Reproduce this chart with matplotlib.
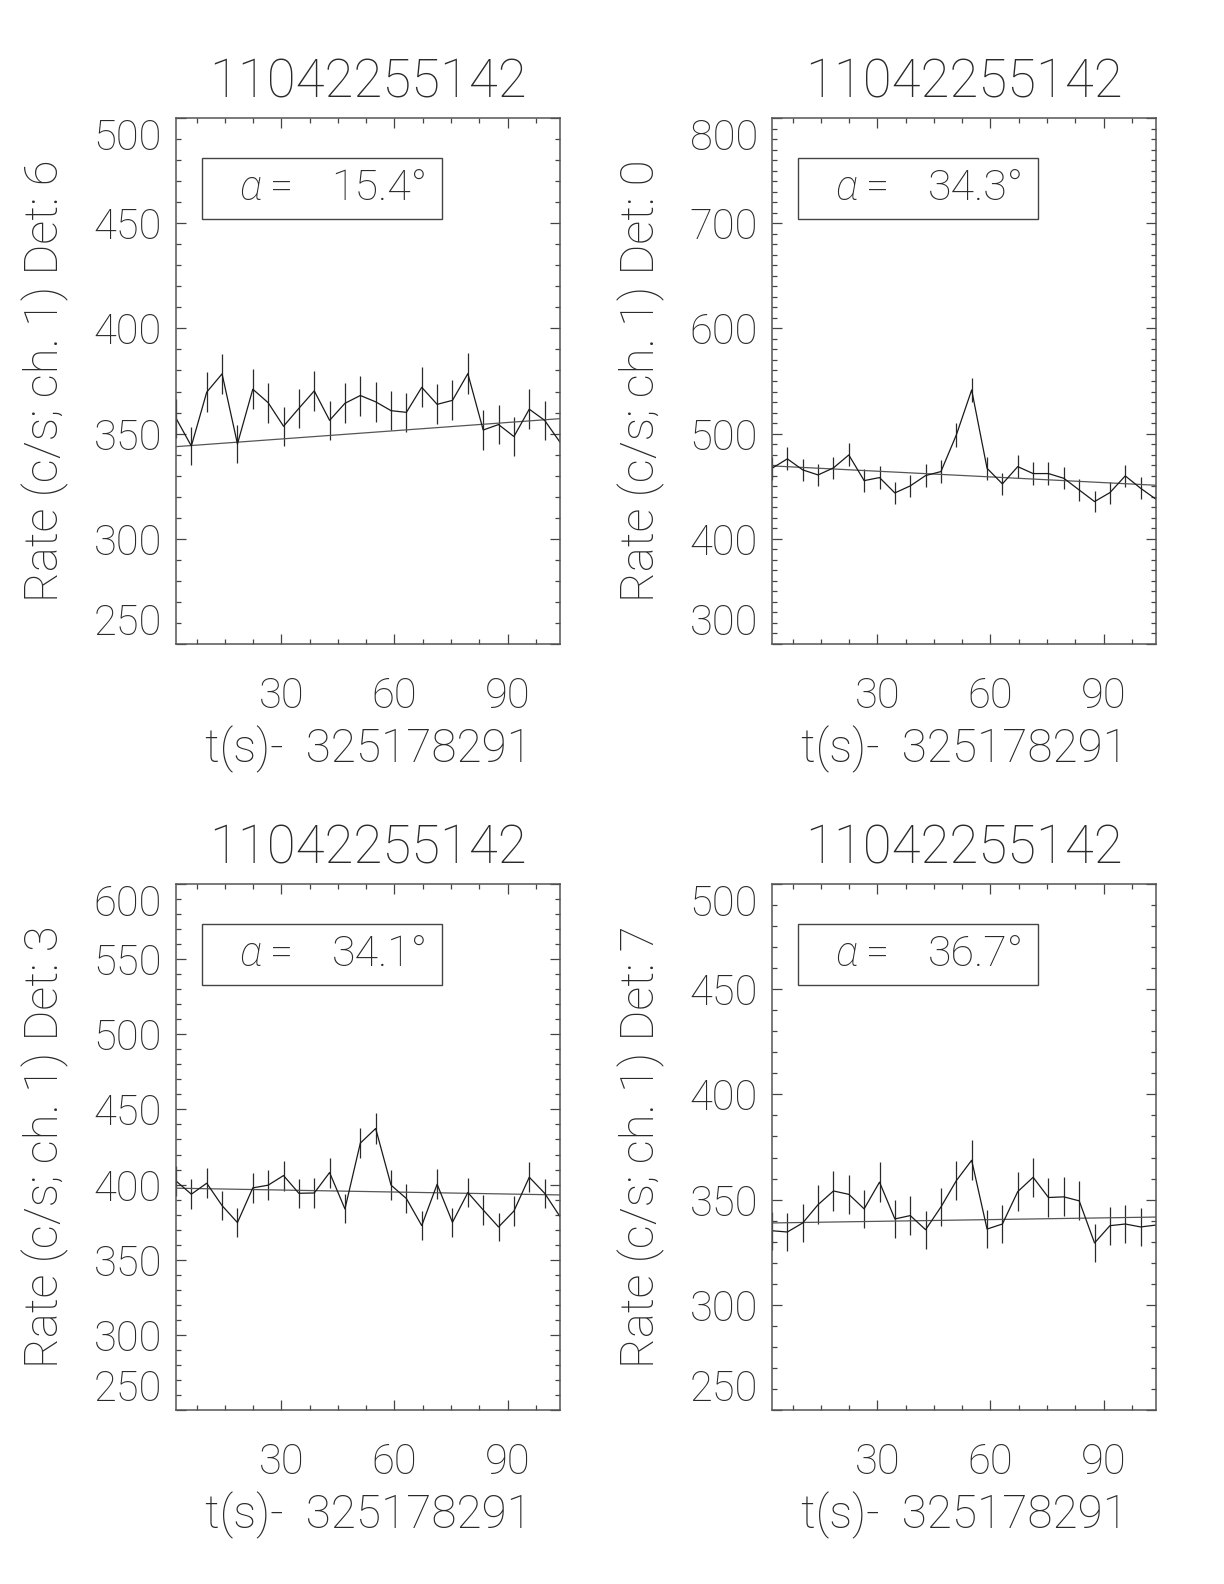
import numpy as np
import matplotlib
matplotlib.use("Agg")
import matplotlib.pyplot as plt
from matplotlib.ticker import MultipleLocator, FixedLocator
from matplotlib.patches import Rectangle

plt.rcParams['font.family'] = ['Roboto', 'DejaVu Sans']

# time bins (s) relative to 325178291
t = [2.05, 6.12, 10.20, 14.27, 18.35, 22.42, 26.49, 30.57, 34.64, 38.72,
     42.79, 46.86, 50.94, 55.01, 59.09, 63.16, 67.23, 71.31, 75.38, 79.46,
     83.53, 87.60, 91.68, 95.75, 99.83, 103.90]

rate_det6 = [357.3, 344.1, 369.7, 378.4, 345.1, 371.1, 364.7, 353.5, 362.0, 370.3,
             356.3, 364.4, 368.1, 365.1, 360.9, 360.1, 372.0, 363.9, 365.8, 378.5,
             351.7, 354.3, 348.6, 361.6, 356.3, 345.9]
err_det6 = [9.36, 9.19, 9.53, 9.64, 9.20, 9.54, 9.46, 9.32, 9.43, 9.53,
            9.35, 9.46, 9.51, 9.47, 9.41, 9.40, 9.56, 9.45, 9.48, 9.64,
            9.29, 9.33, 9.25, 9.42, 9.35, 9.21]

rate_det0 = [467.0, 476.0, 465.5, 460.7, 467.4, 479.7, 455.3, 458.2, 443.6, 450.3,
             460.1, 463.9, 498.7, 541.5, 467.0, 452.2, 468.6, 462.0, 462.0, 457.5,
             446.4, 435.4, 443.9, 459.8, 448.0, 437.6]
err_det0 = [10.7, 10.8, 10.7, 10.6, 10.7, 10.9, 10.6, 10.6, 10.4, 10.5,
            10.6, 10.7, 11.1, 11.5, 10.7, 10.5, 10.7, 10.6, 10.6, 10.6,
            10.5, 10.3, 10.4, 10.6, 10.5, 10.4]

rate_det3 = [402.4, 393.6, 400.9, 386.0, 374.7, 397.8, 399.6, 406.0, 394.2, 394.4,
             408.0, 383.8, 427.6, 437.3, 399.6, 390.7, 372.7, 400.2, 374.9, 394.7,
             383.1, 371.8, 382.4, 404.9, 394.2, 378.7]
err_det3 = [9.9, 9.8, 9.9, 9.7, 9.6, 9.9, 9.9, 10.0, 9.8, 9.8,
            10.0, 9.7, 10.2, 10.4, 9.9, 9.8, 9.6, 9.9, 9.6, 9.8,
            9.7, 9.6, 9.7, 10.0, 9.8, 9.6]

rate_det7 = [335.2, 334.6, 338.9, 347.6, 354.1, 352.5, 345.6, 358.3, 340.8, 342.4,
             335.7, 346.5, 359.0, 368.7, 336.0, 338.4, 353.8, 360.6, 351.0, 351.3,
             349.4, 329.4, 337.6, 338.4, 337.0, 337.9]
err_det7 = [9.1, 9.1, 9.1, 9.2, 9.3, 9.3, 9.2, 9.4, 9.1, 9.2,
            9.1, 9.2, 9.4, 9.5, 9.1, 9.1, 9.3, 9.4, 9.3, 9.3,
            9.3, 9.0, 9.1, 9.1, 9.1, 9.1]

# linear background fit: value at first and last bin
fit_det6 = [343.8, 357.1]
fit_det0 = [469.3, 450.9]
fit_det3 = [397.6, 393.1]
fit_det7 = [338.9, 341.7]

detectors = [6, 0, 3, 7]
alphas = [15.4, 34.3, 34.1, 36.7]
yticks_det6 = [250, 300, 350, 400, 450, 500]
yticks_det0 = [300, 400, 500, 600, 700, 800]
yticks_det3 = [250, 300, 350, 400, 450, 500, 550, 600]
yticks_det7 = [250, 300, 350, 400, 450, 500]
xticks = [30, 60, 90]
trigger = "11042255142"
t0 = "325178291"

rates = [rate_det6, rate_det0, rate_det3, rate_det7]
errs = [err_det6, err_det0, err_det3, err_det7]
fits = [fit_det6, fit_det0, fit_det3, fit_det7]
yticks = [yticks_det6, yticks_det0, yticks_det3, yticks_det7]

W, H = 1224, 1584
TXT = '#2a2a2a'
FW = 'light'

# panel boxes in pixels: left, top, right, bottom
boxes = [(176, 118, 560, 644), (772, 118, 1156, 644),
         (176, 884, 560, 1410), (772, 884, 1156, 1410)]

fig = plt.figure(figsize=(W / 100, H / 100), dpi=100)
axes = []

for k in range(4):
	l, tp, r, b = boxes[k]
	ax = fig.add_axes([l / W, 1 - b / H, (r - l) / W, (b - tp) / H])
	axes.append(ax)

	ax.errorbar(t, rates[k], yerr=errs[k], fmt='-', color='#1a1a1a', lw=0.9,
	            elinewidth=0.9, ecolor='#2a2a2a', capsize=0)
	ax.plot([t[0], t[-1]], fits[k], color='#555555', lw=0.9)

	ax.set_xlim(t[0], t[-1])
	ax.set_ylim(yticks[k][0], yticks[k][-1])
	ax.xaxis.set_major_locator(FixedLocator(xticks))
	ax.xaxis.set_minor_locator(MultipleLocator(7.5))
	ax.yaxis.set_major_locator(FixedLocator(yticks[k]))
	ax.yaxis.set_minor_locator(MultipleLocator(10))
	ax.tick_params(which='both', direction='in', top=True, right=True,
	               color='#444444', width=0.9)
	ax.tick_params(which='major', length=7.5)
	ax.tick_params(which='minor', length=3.8)
	ax.tick_params(axis='x', which='major', pad=23, labelsize=30, labelcolor=TXT)
	ax.tick_params(axis='y', which='major', pad=10, labelsize=30, labelcolor=TXT)
	for s in ax.spines.values():
		s.set_color('#555555')
		s.set_linewidth(1.1)

	ax.set_title(trigger, fontsize=38, color=TXT, pad=15, fontweight=FW)
	ax.set_xlabel(f"t(s)-  {t0}", fontsize=33, color=TXT, labelpad=6, fontweight=FW)
	ax.set_ylabel(f"Rate (c/s; ch. 1) Det: {detectors[k]}", fontsize=34,
	              color=TXT, labelpad=18, fontweight=FW)

	# angle box
	ax.add_patch(Rectangle((0.067, 0.808), 0.626, 0.116, transform=ax.transAxes,
	                       fill=False, edgecolor='#444444', lw=1.0))
	ax.text(0.165, 0.866, "α", transform=ax.transAxes, fontsize=30, style='italic',
	        color=TXT, va='center', ha='left', fontweight=FW)
	ax.text(0.245, 0.866, "=", transform=ax.transAxes, fontsize=30,
	        color=TXT, va='center', ha='left', fontweight=FW)
	ax.text(0.405, 0.866, f"{alphas[k]:.1f}°", transform=ax.transAxes,
	        fontsize=31, color=TXT, va='center', ha='left', fontweight=FW)

fig.canvas.draw()
for ax in axes:
	ticks = ax.yaxis.get_major_ticks()
	ticks[0].label1.set_va('bottom')
	ticks[-1].label1.set_va('top')
	for tk in ax.xaxis.get_major_ticks() + ticks:
		tk.label1.set_fontweight(FW)

fig.savefig("out.png", dpi=100)
